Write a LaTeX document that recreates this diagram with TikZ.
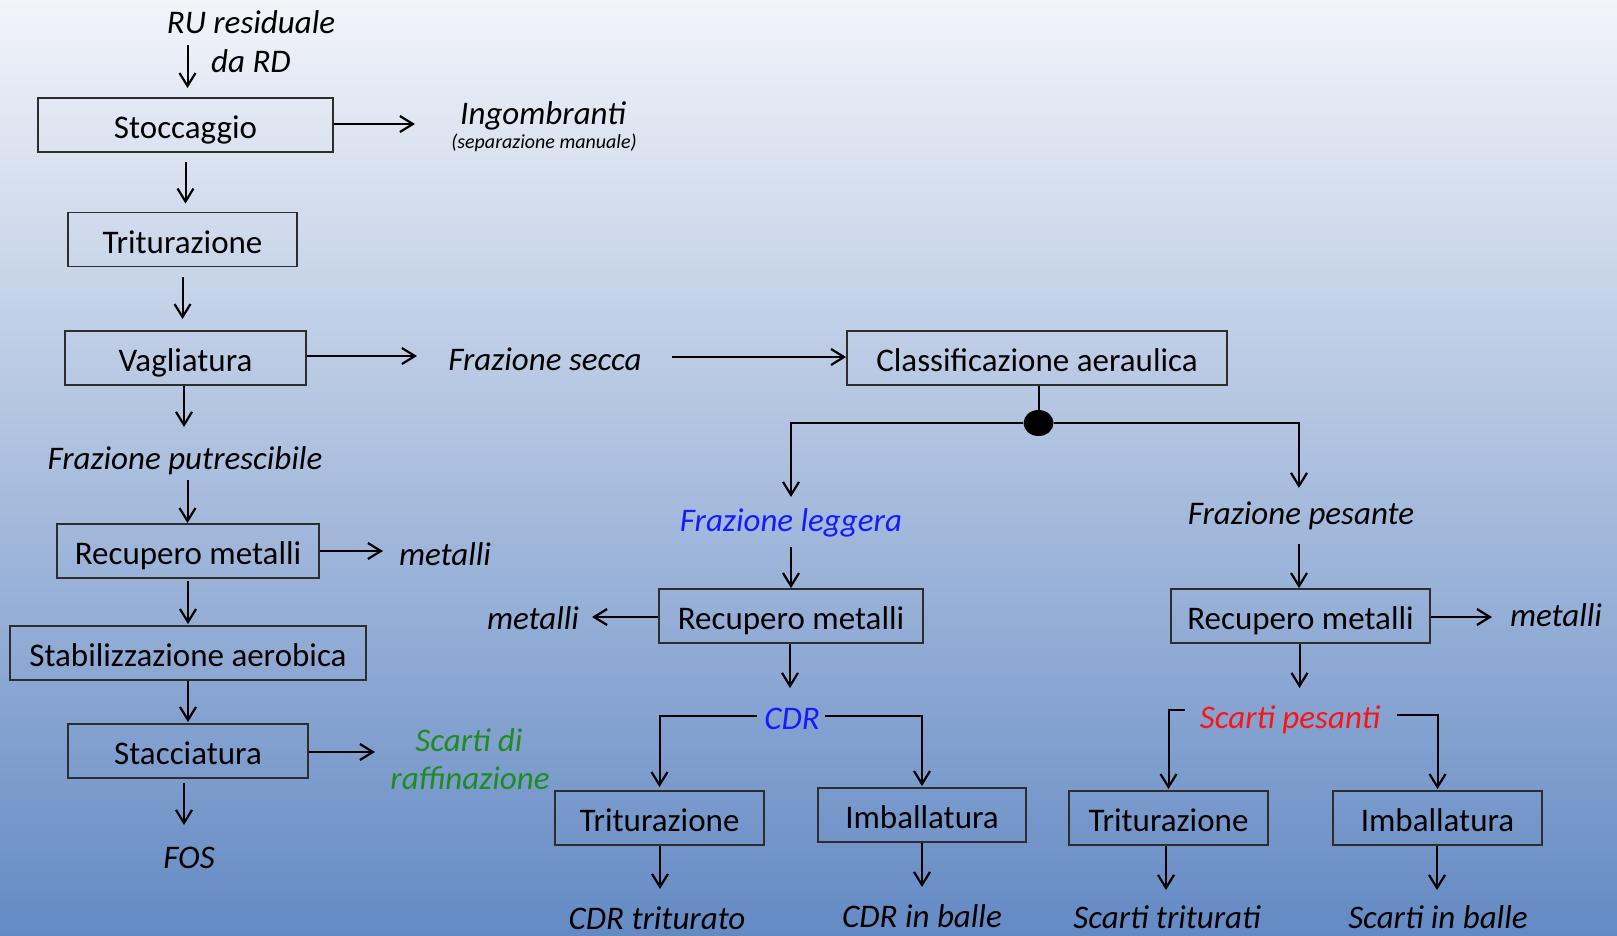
\documentclass[tikz,border=0pt]{standalone}
\usepackage{fontspec}
\setmainfont{Carlito}
\usetikzlibrary{arrows.meta,shapes.geometric,calc}
\definecolor{bgtop}{RGB}{242,244,249}
\definecolor{bgbot}{RGB}{100,138,196}
\definecolor{lblue}{RGB}{25,25,255}
\definecolor{lred}{RGB}{250,20,20}
\definecolor{lgreen}{RGB}{30,140,30}
\definecolor{boxline}{RGB}{45,45,45}
\begin{document}
\begin{tikzpicture}[x=1pt,y=-1pt,
  box/.style={draw=boxline,line width=1.8pt,minimum height=54pt,inner sep=0pt,
    font=\fontsize{33}{38}\selectfont,text height=27pt,text depth=0pt},
  lab/.style={anchor=base,inner sep=0pt,font=\fontsize{33}{38}\selectfont\itshape},
  conn/.style={line width=2pt},
  arr/.style={line width=2pt,-{Straight Barb[length=13pt,width=16pt,line width=2.2pt]}}]
\useasboundingbox (0,0) rectangle (1617,935);
\shade[top color=bgtop,bottom color=bgbot] (0,0) rectangle (1617,935);

% boxes
\node[box,minimum width=295pt] (stocc) at (185.5,125) {Stoccaggio};
\node[box,minimum width=229pt] (trit1) at (182.5,239.5) {Triturazione};
\node[box,minimum width=241pt] (vagl) at (185.5,358) {Vagliatura};
\node[box,minimum width=262pt] (recL) at (188,551) {Recupero metalli};
\node[box,minimum width=356pt] (stab) at (188,653) {Stabilizzazione aerobica};
\node[box,minimum width=240pt] (stacc) at (188,751) {Stacciatura};
\node[box,minimum width=380pt] (class) at (1037,358) {Classificazione aeraulica};
\node[box,minimum width=264pt] (recM) at (791,616) {Recupero metalli};
\node[box,minimum width=259pt] (recR) at (1300.5,616) {Recupero metalli};
\node[box,minimum width=209pt] (tritM) at (659.5,818) {Triturazione};
\node[box,minimum width=208pt] (imbM) at (922,815) {Imballatura};
\node[box,minimum width=199pt] (tritR) at (1168.5,818) {Triturazione};
\node[box,minimum width=209pt] (imbR) at (1437.5,818) {Imballatura};

% labels
\node[lab] (ru1) at (251,33) {RU residuale};
\node[lab] (ru2) at (251,72) {da RD};
\node[lab] (ingomb) at (543,124) {Ingombranti};
\node[lab,font=\fontsize{20}{24}\selectfont\itshape] (sepman) at (544,148) {(separazione manuale)};
\node[lab] (fsecca) at (545,370) {Frazione secca};
\node[lab] (fputr) at (185,469) {Frazione putrescibile};
\node[lab] (metL) at (445,565) {metalli};
\node[lab,text=lgreen] (scarti1) at (469,751) {Scarti di};
\node[lab,text=lgreen] (scarti2) at (470,789) {raffinazione};
\node[lab] (fos) at (189,868) {FOS};
\node[lab,text=lblue] (fleg) at (791,531) {Frazione leggera};
\node[lab] (fpes) at (1301,524) {Frazione pesante};
\node[lab] (metM) at (533,629) {metalli};
\node[lab] (metR) at (1556,626) {metalli};
\node[lab,text=lblue] (cdr) at (792,729) {CDR};
\node[lab,text=lred] (spes) at (1290,728) {Scarti pesanti};
\node[lab] (cdrtrit) at (657,929) {CDR triturato};
\node[lab] (cdrballe) at (922,927) {CDR in balle};
\node[lab] (strit) at (1167,928) {Scarti triturati};
\node[lab] (sballe) at (1438,928) {Scarti in balle};

% junction dot
\node[ellipse,fill=black,minimum width=30pt,minimum height=26pt,inner sep=0pt] (dot) at (1038.5,423) {};

% free ends
\coordinate (s1) at (187.5,45);
\coordinate (e2) at (415,124);
\coordinate (e5) at (417,356);
\coordinate (s6) at (672,357);
\coordinate (e7) at (184,427);
\coordinate (s8) at (187.5,480);
\coordinate (e9) at (383,551);
\coordinate (e12) at (375,752);
\coordinate (e13) at (184,825);
\coordinate (e15) at (791,497);
\coordinate (e16) at (1299,488);
\coordinate (s17) at (791,547);
\coordinate (s18) at (1299,544);
\coordinate (e19) at (592,617);
\coordinate (e20) at (1492,617);
\coordinate (e21) at (790,688);
\coordinate (s22) at (757,716);
\coordinate (s23) at (825,716);
\coordinate (e24) at (660,889);
\coordinate (e25) at (922,887);
\coordinate (e26) at (1299.5,688);
\coordinate (s27) at (1185,710);
\coordinate (s28) at (1397,715);
\coordinate (e29) at (1166,890);
\coordinate (e30) at (1437,890);

% connectors
\draw[arr,shorten >=9pt] (s1) -- (s1 |- stocc.north);
\draw[arr] (stocc.east |- e2) -- (e2);
\draw[arr,shorten <=9pt,shorten >=8pt] (stocc.south) -- (stocc.south |- trit1.north);
\draw[arr,shorten <=10pt,shorten >=11pt] (trit1.south) -- (trit1.south |- vagl.north);
\draw[arr] (vagl.east |- e5) -- (e5);
\draw[arr] (s6) -- (class.west |- s6);
\draw[arr] (vagl.south -| e7) -- (e7);
\draw[arr] (s8) -- (s8 |- recL.north);
\draw[arr] (recL.east) -- (e9);
\draw[arr,shorten <=2pt,shorten >=1pt] (recL.south) -- (stab.north);
\draw[arr,shorten >=1pt] (stab.south) -- (stacc.north);
\draw[arr] (stacc.east |- e12) -- (e12);
\draw[arr,shorten <=4pt] (stacc.south -| e13) -- (e13);

\draw[conn] (dot |- class.south) -- (dot.north);
\draw[arr] (dot.west) -| (e15);
\draw[arr] (dot.east) -| (e16);
\draw[arr] (s17) -- (recM.north);
\draw[arr] (s18) -- (s18 |- recR.north);
\draw[arr] (recM.west |- e19) -- (e19);
\draw[arr] (recR.east |- e20) -- (e20);
\draw[arr] (recM.south -| e21) -- (e21);
\draw[arr,shorten >=3pt] (s22) -| (tritM.north);
\draw[arr,shorten >=1pt] (s23) -| (imbM.north);
\draw[arr] (tritM.south -| e24) -- (e24);
\draw[arr] (imbM.south) -- (e25);
\draw[arr] (recR.south -| e26) -- (e26);
\draw[arr,shorten >=1pt] (s27) -| (tritR.north);
\draw[arr,shorten >=1pt] (s28) -| (imbR.north);
\draw[arr] (tritR.south -| e29) -- (e29);
\draw[arr] (imbR.south -| e30) -- (e30);
\end{tikzpicture}
\end{document}
